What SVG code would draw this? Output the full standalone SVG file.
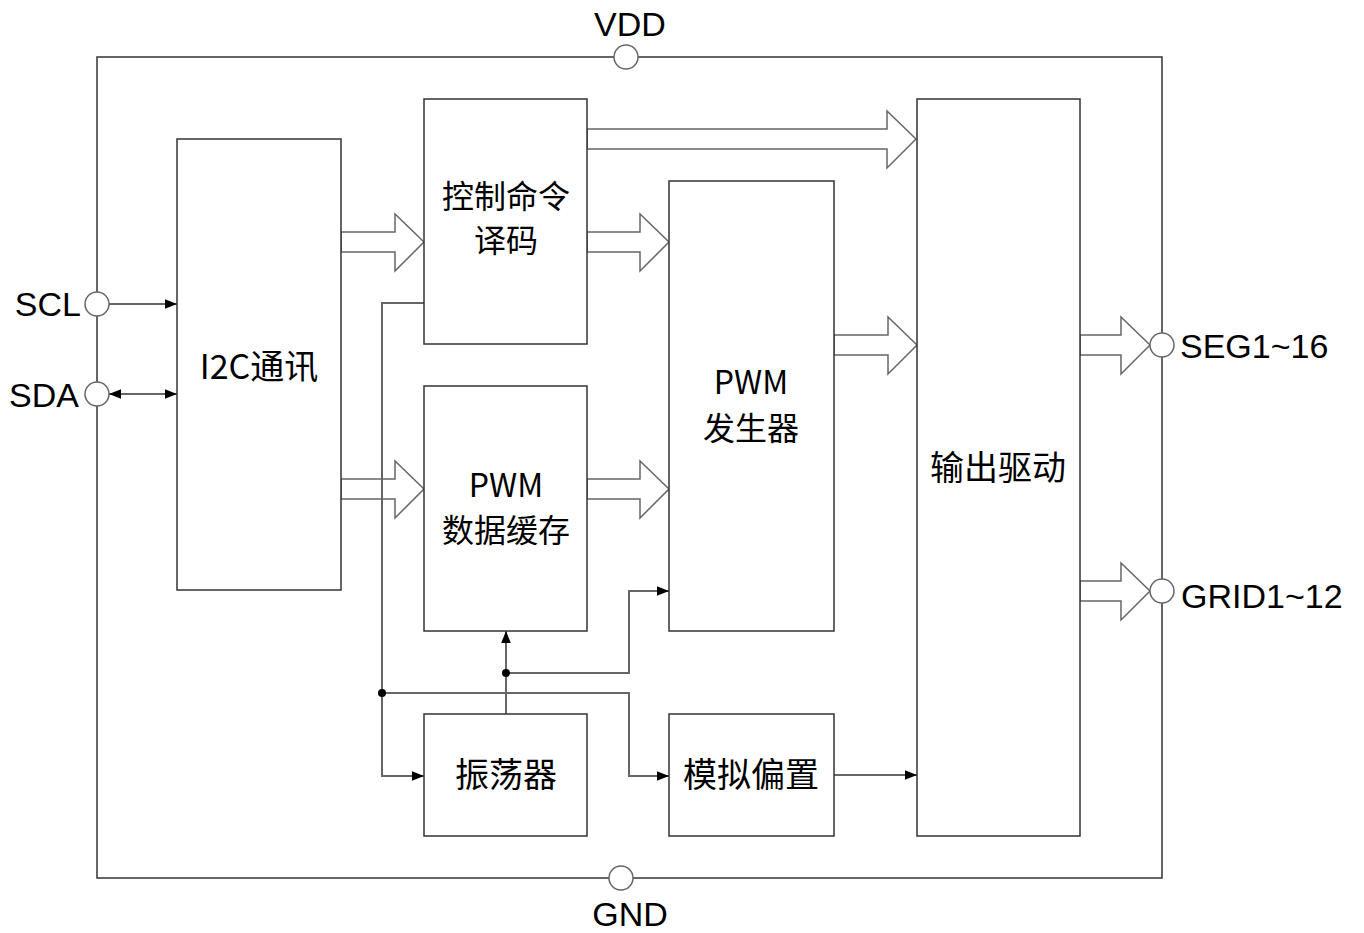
<svg xmlns="http://www.w3.org/2000/svg" width="1364" height="933" viewBox="0 0 1364 933">
<defs>
<marker id="ah" viewBox="0 0 10 10" refX="10" refY="5" markerWidth="16" markerHeight="12" markerUnits="userSpaceOnUse" orient="auto-start-reverse"><path d="M0,1 L10,5 L0,9 Z" fill="#000"/></marker>
<style>
.box{fill:#fff;stroke:#333;stroke-width:1.5}
.pin{fill:#fff;stroke:#666;stroke-width:1.5}
.ln{fill:none;stroke:#666;stroke-width:2}
.ha{fill:#fff;stroke:#666;stroke-width:1.5;stroke-linejoin:miter}
.t{font-family:"Noto Sans CJK SC","Liberation Sans",sans-serif;font-size:34px;fill:#000;text-anchor:middle}
.t2{font-family:"Noto Sans CJK SC","Liberation Sans",sans-serif;font-size:32px;fill:#000;text-anchor:middle}
.l{font-family:"Liberation Sans",Arial,sans-serif;font-size:34px;fill:#000}
</style>
</defs>
<rect id="chip" x="97" y="57" width="1065" height="821" fill="none" stroke="#333" stroke-width="1.5"/>
<g id="connectors">
<path class="ha" d="M341,232 H395 V214 L424,242 L395,271 V252 H341 Z"/>
<path class="ha" d="M341,479 H395 V461 L424,489 L395,518 V499 H341 Z"/>
<path class="ha" d="M587,232 H640 V214 L669,242 L640,271 V252 H587 Z"/>
<path class="ha" d="M587,479 H640 V461 L669,489 L640,518 V499 H587 Z"/>
<path class="ha" d="M587,129 H887 V111 L916,139 L887,168 V149 H587 Z"/>
<path class="ha" d="M834,335 H888 V317 L917,345 L888,374 V355 H834 Z"/>
<path class="ha" d="M1080,335 H1121 V317 L1150,345 L1121,374 V355 H1080 Z"/>
<path class="ha" d="M1080,581 H1121 V563 L1150,591 L1121,620 V601 H1080 Z"/>
<path class="ln" d="M109,304 H177" marker-end="url(#ah)"/>
<path class="ln" d="M109,394 H177" marker-start="url(#ah)" marker-end="url(#ah)"/>
<path class="ln" d="M424,303 H382 V776 H424" marker-end="url(#ah)"/>
<path class="ln" d="M382,693 H629 V776 H669" marker-end="url(#ah)"/>
<path class="ln" d="M506,714 V631" marker-end="url(#ah)"/>
<path class="ln" d="M506,673 H629 V591 H669" marker-end="url(#ah)"/>
<path class="ln" d="M834,775 H917" marker-end="url(#ah)"/>
<circle cx="382" cy="693" r="4" fill="#000"/>
<circle cx="506" cy="673" r="4" fill="#000"/>
</g>
<g id="pin-vdd"><circle class="pin" cx="626" cy="57" r="12"/><text class="l" x="630" y="36" text-anchor="middle">VDD</text></g>
<g id="pin-gnd"><circle class="pin" cx="621" cy="878" r="12"/><text class="l" x="630" y="926" text-anchor="middle">GND</text></g>
<g id="pin-scl"><circle class="pin" cx="97" cy="304" r="12"/><text class="l" x="81" y="316" text-anchor="end">SCL</text></g>
<g id="pin-sda"><circle class="pin" cx="97" cy="394" r="12"/><text class="l" x="79" y="407" text-anchor="end">SDA</text></g>
<g id="pin-seg"><circle class="pin" cx="1162" cy="345" r="12"/><text class="l" x="1180" y="358">SEG1~16</text></g>
<g id="pin-grid"><circle class="pin" cx="1162" cy="591" r="12"/><text class="l" x="1181" y="608">GRID1~12</text></g>
<g id="i2c"><rect class="box" x="177" y="139" width="164" height="451"/><text class="t" x="259" y="379">I2C通讯</text></g>
<g id="cmd"><rect class="box" x="424" y="99" width="163" height="245"/><text class="t2" x="506" y="208">控制命令</text><text class="t2" x="506" y="252">译码</text></g>
<g id="pwmbuf"><rect class="box" x="424" y="386" width="163" height="245"/><text class="t2" x="506" y="497">PWM</text><text class="t2" x="506" y="542">数据缓存</text></g>
<g id="pwmgen"><rect class="box" x="669" y="181" width="165" height="450"/><text class="t2" x="751" y="394">PWM</text><text class="t2" x="751" y="440">发生器</text></g>
<g id="drv"><rect class="box" x="917" y="99" width="163" height="737"/><text class="t" x="998" y="480">输出驱动</text></g>
<g id="osc"><rect class="box" x="424" y="714" width="163" height="122"/><text class="t" x="506" y="787">振荡器</text></g>
<g id="bias"><rect class="box" x="669" y="714" width="165" height="122"/><text class="t" x="751" y="787">模拟偏置</text></g>
</svg>
